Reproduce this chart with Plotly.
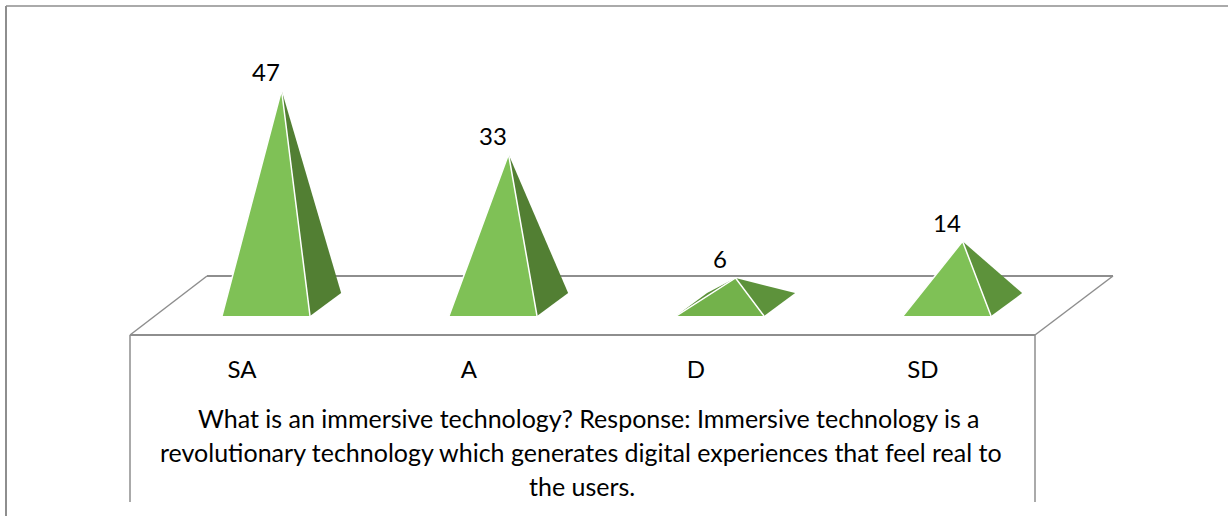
import plotly.graph_objects as go

W, H = 1228, 516

# Data
categories = ['SA', 'A', 'D', 'SD']
values = [47, 33, 6, 14]
title_lines = [
    'What is an immersive technology? Response: Immersive technology is a',
    'revolutionary technology which generates digital experiences that feel real to',
    'the users.',
]

# Shades per pyramid
front_colors = ['#7FC156', '#7FC156', '#73B24B', '#7FC156']
side_colors = ['#527F33', '#527F33', '#5D923B', '#5D923B']

# Pyramid shape in axis units
half_w = 0.194
depth_x = 0.137
floor_front = -2.3
floor_back = 2.7

FONT = 'Lato'
GREY = '#8E8E8E'

fig = go.Figure()

for i, v in enumerate(values):
    left, right = i - half_w, i + half_w
    apex_x = i + depth_x / 2
    # back left face, only peeks out on the flat pyramids
    fig.add_trace(go.Scatter(
        x=[left, left + depth_x, apex_x, left], y=[floor_front, floor_back, v, floor_front],
        mode='lines', fill='toself', fillcolor=side_colors[i],
        line=dict(color=side_colors[i], width=0), hoverinfo='skip', showlegend=False))
    # right side face
    fig.add_trace(go.Scatter(
        x=[right, right + depth_x, apex_x, right], y=[floor_front, floor_back, v, floor_front],
        mode='lines', fill='toself', fillcolor=side_colors[i],
        line=dict(color=side_colors[i], width=0), hoverinfo='skip', showlegend=False))
    # front face
    fig.add_trace(go.Scatter(
        x=[left, right, apex_x, left], y=[floor_front, floor_front, v, floor_front],
        mode='lines', fill='toself', fillcolor=front_colors[i],
        line=dict(color=front_colors[i], width=0), hoverinfo='skip', showlegend=False))
    # white edges of the front face, none along the base
    fig.add_trace(go.Scatter(
        x=[left, apex_x, right], y=[floor_front, v, floor_front],
        mode='lines', line=dict(color='white', width=1.5), hoverinfo='skip', showlegend=False))
    fig.add_annotation(x=i, y=v, yshift=19, yanchor='middle', text=str(v), showarrow=False,
                       font=dict(family=FONT, size=24, color='black'))


def px(x):
    return x / W


def py(y):
    return 1 - y / H


# Floor, walls and outer frame of the picture
frame_lines = [
    (130, 335, 1035, 335, 2), (130, 335, 207, 276, 1.5), (207, 276, 1113, 276, 2),
    (1113, 276, 1035, 335, 1.5), (130, 335, 130, 502, 1.5), (1035, 335, 1035, 502, 1.5),
    (6, 6, 1228, 6, 1.5), (6, 6, 6, 516, 2),
]
for x0, y0, x1, y1, lw in frame_lines:
    fig.add_shape(type='line', xref='paper', yref='paper', layer='below',
                  x0=px(x0), y0=py(y0), x1=px(x1), y1=py(y1), line=dict(color=GREY, width=lw))

# first line sits a bit right of the others in the original
title_centers = [589, 581, 582]
for n, line in enumerate(title_lines):
    fig.add_annotation(xref='paper', yref='paper', x=px(title_centers[n]), y=py(418 + 34 * n), yanchor='middle',
                       text=line, showarrow=False, font=dict(family=FONT, size=25, color='black'))

fig.update_layout(
    width=W, height=H, margin=dict(l=0, r=0, t=0, b=0),
    paper_bgcolor='white', plot_bgcolor='white', showlegend=False,
    xaxis=dict(range=[-266 / 227, (W - 266) / 227], anchor='free', position=py(353),
               tickmode='array', tickvals=[i - 0.106 for i in range(len(categories))], ticktext=categories,
               ticklen=0, showgrid=False, zeroline=False, showline=False,
               tickfont=dict(family=FONT, size=24, color='black')),
    yaxis=dict(range=[-(H - 305.5) / 4.585, 305.5 / 4.585], visible=False, showgrid=False, zeroline=False),
)

# page margin would push the figure off the window
fig.write_html("out.html", config=dict(displayModeBar=False),
               post_script="document.body.style.margin='0';document.body.style.overflow='hidden';")
